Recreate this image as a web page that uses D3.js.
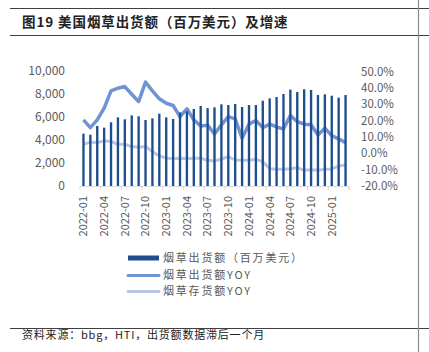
<!DOCTYPE html>
<html><head><meta charset="utf-8">
<script src="https://cdn.jsdelivr.net/npm/d3@7"></script>
<style>
body{margin:0;background:#fff;}
svg{display:block;}
text{font-family:"Noto Sans CJK SC","Noto Sans",sans-serif;}
</style></head>
<body>
<script>
const months = [];
for (let y = 2022; y <= 2025; y++) for (let m = 1; m <= 12; m++) {
  if (y === 2025 && m > 3) break;
  months.push(y + "-" + String(m).padStart(2, "0"));
}
const shipments = [4550,4460,5220,5070,5540,5970,5800,6140,6060,5740,5880,6290,5970,5830,6400,6490,6700,6960,6780,6840,7100,7040,7130,6870,7040,7040,7420,7620,7740,8000,8380,8170,8410,8350,7910,7970,7850,7680,7910];
const shipYoy = [20.4,15.7,20.4,27.6,38.2,39.8,40.8,36.1,31.6,43.5,38.2,33.3,30.6,29.2,22.4,27.2,20.4,16.7,17.2,11.8,17.4,22.4,21,9.2,17.8,20,15.7,17.8,16.1,14.9,23,19.4,17.8,17.4,11.2,15.3,10.8,8.8,6.5];
const invYoy = [5.5,6.8,6.6,7.6,7.2,5.5,5.5,4.1,3.7,4.1,1,-1.6,-3,-3.2,-3,-3.4,-3,-3,-4.3,-4.7,-3.5,-2.1,-4.1,-4.3,-4.3,-3.7,-5.1,-9.4,-9.8,-9.8,-9.4,-8.8,-10.4,-10,-10.4,-9.8,-9.6,-7.8,-7.2];
const leftTicks = [0,2000,4000,6000,8000,10000];
const rightTicks = [-20,-10,0,10,20,30,40,50];
const xTickLabels = months.filter((d,i)=>i%3===0);
const legendLabels = ["烟草出货额（百万美元）","烟草出货额YOY","烟草存货额YOY"];
const title = "图19 美国烟草出货额（百万美元）及增速";
const source = "资料来源：bbg，HTI，出货额数据滞后一个月";

const W = 429, H = 352;
const svg = d3.select("body").append("svg").attr("width", W).attr("height", H);
const gray = "#595959";

// frame lines
svg.append("line").attr("x1",10).attr("x2",429).attr("y1",8.5).attr("y2",8.5).attr("stroke","#404040").attr("stroke-width",1);
svg.append("line").attr("x1",10).attr("x2",429).attr("y1",35.5).attr("y2",35.5).attr("stroke","#404040").attr("stroke-width",1);
svg.append("line").attr("x1",10).attr("x2",429).attr("y1",328.5).attr("y2",328.5).attr("stroke","#404040").attr("stroke-width",1);
svg.append("line").attr("x1",418.5).attr("x2",418.5).attr("y1",0).attr("y2",352).attr("stroke","#8c8c8c").attr("stroke-width",1.2);

svg.append("text").attr("x",22).attr("y",27).attr("font-size",13.5).attr("font-weight","bold").attr("letter-spacing",0.9).attr("fill","#222").text(title);
svg.append("text").attr("x",22).attr("y",339).attr("font-size",11).attr("letter-spacing",0.8).attr("fill","#222").text(source);

const x = d3.scaleBand().domain(months).range([80,349]).paddingInner(0.66).paddingOuter(0.33);
const yL = d3.scaleLinear().domain([0,10000]).range([186,71]);
const yR = d3.scaleLinear().domain([-20,50]).range([186,71.5]);

// left axis
const gl = svg.append("g").attr("transform","translate(71,0)")
  .call(d3.axisLeft(yL).tickValues(leftTicks).tickFormat(d3.format(",")).tickSize(0).tickPadding(0));
gl.select(".domain").remove();
gl.selectAll("text").attr("font-size",12).attr("fill",gray).attr("font-family","Liberation Sans, Arial, sans-serif").attr("x",-6);

// right axis
const gr = svg.append("g").attr("transform","translate(361,0)")
  .call(d3.axisRight(yR).tickValues(rightTicks).tickFormat(d=>d.toFixed(1)+"%").tickSize(0).tickPadding(0));
gr.select(".domain").remove();
gr.selectAll("text").attr("font-size",11.5).attr("fill",gray).attr("font-family","Liberation Sans, Arial, sans-serif").attr("x",0);

// lines (behind bars)
const cx = d => x(d) + x.bandwidth()/2;
svg.append("path").datum(invYoy.map((v,i)=>[months[i],v]))
  .attr("fill","none").attr("stroke","#b4c7e7").attr("stroke-width",3).attr("stroke-linejoin","round")
  .attr("d", d3.line().x(d=>cx(d[0])).y(d=>yR(d[1])));
svg.append("path").datum(shipYoy.map((v,i)=>[months[i],v]))
  .attr("fill","none").attr("stroke","#6f93d5").attr("stroke-width",3.5).attr("stroke-linejoin","round")
  .attr("d", d3.line().x(d=>cx(d[0])).y(d=>yR(d[1])));

// bars
svg.append("g").selectAll("rect").data(shipments).join("rect")
  .attr("x",(d,i)=>x(months[i])).attr("width",x.bandwidth())
  .attr("y",d=>yL(d)).attr("height",d=>yL(0)-yL(d)).attr("fill","#1f4e8c");

// x axis
const xAxis = d3.axisBottom(x).tickValues(xTickLabels).tickSize(0).tickPadding(0);
const gx = svg.append("g").attr("transform","translate(0,186)").call(xAxis);
gx.select(".domain").attr("stroke","#d9d9d9").attr("d","M80,0.5H349");
gx.selectAll(".tick text").attr("font-size",11).attr("fill",gray).attr("font-family","Liberation Sans, Arial, sans-serif")
  .attr("transform","rotate(-90)").attr("text-anchor","end").attr("x",-10).attr("y",0).attr("dy","0.35em");
// tick marks at band boundaries every 3 months
const bounds = d3.range(0, months.length+1, 3).map(i=>80 + i*(269/months.length));
svg.append("g").selectAll("line").data(bounds).join("line")
  .attr("x1",d=>d).attr("x2",d=>d).attr("y1",186).attr("y2",190).attr("stroke","#d9d9d9");
svg.append("line").attr("x1",349).attr("x2",349).attr("y1",186).attr("y2",190).attr("stroke","#d9d9d9");

// legend
const lg = svg.append("g");
const ly = [258, 275.5, 291.5];
lg.append("rect").attr("x",128).attr("y",ly[0]-2.5).attr("width",31).attr("height",5).attr("fill","#1f4e8c");
lg.append("line").attr("x1",128).attr("x2",159).attr("y1",ly[1]).attr("y2",ly[1]).attr("stroke","#6f93d5").attr("stroke-width",3).attr("stroke-linecap","round");
lg.append("line").attr("x1",128).attr("x2",159).attr("y1",ly[2]).attr("y2",ly[2]).attr("stroke","#b4c7e7").attr("stroke-width",3).attr("stroke-linecap","round");
legendLabels.forEach((t,i)=>{
  lg.append("text").attr("x",163).attr("y",ly[i]).attr("dy","0.35em").attr("font-size",11)
    .attr("letter-spacing",1.8).attr("fill",gray).text(t);
});
</script>
</body></html>
